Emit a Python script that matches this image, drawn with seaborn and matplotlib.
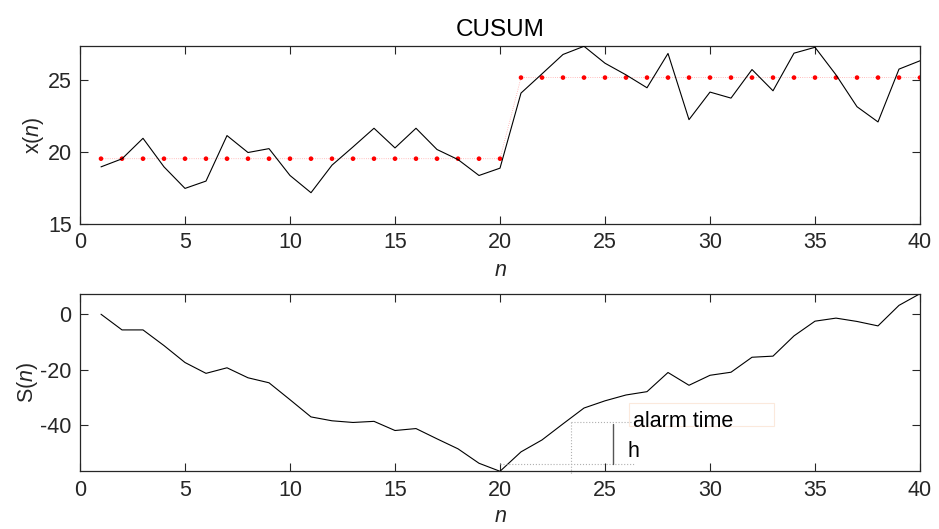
import numpy as np
import pandas as pd
import matplotlib
matplotlib.use("Agg")
import matplotlib.pyplot as plt
import seaborn as sns
from matplotlib.patches import Rectangle

# ---------------- data ----------------
n = list(range(1, 41))
x_values = [18.98, 19.54, 20.97, 18.98, 17.48, 17.99, 21.16, 19.98, 20.25, 18.38,
            17.18, 19.10, 20.37, 21.67, 20.30, 21.67, 20.19, 19.49, 18.38, 18.89,
            24.12, 25.46, 26.81, 27.38, 26.20, 25.39, 24.49, 26.88, 22.27, 24.19,
            23.77, 25.76, 24.28, 26.90, 27.31, 25.39, 23.17, 22.11, 25.79, 26.37]
mean_level = [19.55, 19.55, 19.55, 19.55, 19.55, 19.55, 19.55, 19.55, 19.55, 19.55,
              19.55, 19.55, 19.55, 19.55, 19.55, 19.55, 19.55, 19.55, 19.55, 19.55,
              25.20, 25.20, 25.20, 25.20, 25.20, 25.20, 25.20, 25.20, 25.20, 25.20,
              25.20, 25.20, 25.20, 25.20, 25.20, 25.20, 25.20, 25.20, 25.20, 25.20]
s_values = [0.0, -5.65, -5.65, -11.3, -17.4, -21.3, -19.3, -22.9, -24.7, -30.8,
            -37.0, -38.4, -39.0, -38.6, -41.9, -41.2, -44.9, -48.5, -53.7, -56.6,
            -49.6, -45.3, -39.5, -33.8, -31.2, -29.1, -27.9, -21.0, -25.6, -22.0,
            -20.9, -15.5, -15.1, -7.8, -2.5, -1.4, -2.6, -4.2, 3.2, 7.4]
x_ticks = [0, 5, 10, 15, 20, 25, 30, 35, 40]
top_yticks = [15, 20, 25]
bottom_yticks = [-40, -20, 0]

df = pd.DataFrame({"n": n, "x": x_values, "mu": mean_level, "S": s_values})

# ---------------- style ----------------
sns.set_style("ticks")
plt.rcParams["font.family"] = ["Liberation Sans", "DejaVu Sans"]
plt.rcParams["mathtext.fontset"] = "custom"
plt.rcParams["mathtext.rm"] = "Liberation Sans"
plt.rcParams["mathtext.it"] = "Liberation Sans:italic"
plt.rcParams["axes.unicode_minus"] = False
FS = 15.5
TXT = "#262626"

fig = plt.figure(figsize=(9.39, 5.29), dpi=100)
ax1 = fig.add_axes([80 / 939, 1 - 224 / 529, 840 / 939, 178 / 529])
ax2 = fig.add_axes([80 / 939, 1 - 471.3 / 529, 840 / 939, 177.6 / 529])

# top panel
sns.lineplot(data=df, x="n", y="mu", ax=ax1, color="red", linestyle=":",
             linewidth=0.6, alpha=0.35)
sns.scatterplot(data=df, x="n", y="mu", ax=ax1, color="red", s=11,
                edgecolor="none", zorder=3)
sns.lineplot(data=df, x="n", y="x", ax=ax1, color="black", linewidth=0.8, zorder=4)
ax1.set_xlim(0, 40)
ax1.set_ylim(15, 27.4)
ax1.set_yticks(top_yticks)
ax1.set_title("CUSUM", fontsize=17.5, color="black", pad=7)
ax1.set_ylabel(r"x($\mathit{n}$)", fontsize=FS, color=TXT, labelpad=1)
ax1.set_xlabel(r"$\mathit{n}$", fontsize=FS, color=TXT, labelpad=5)

# bottom panel
sns.lineplot(data=df, x="n", y="S", ax=ax2, color="black", linewidth=0.8)
ax2.set_xlim(0, 40)
ax2.set_ylim(-56.6, 7.4)
ax2.set_yticks(bottom_yticks)
ax2.set_ylabel(r"S($\mathit{n}$)", fontsize=FS, color=TXT, labelpad=0)
ax2.set_xlabel(r"$\mathit{n}$", fontsize=FS, color=TXT, labelpad=4)

# annotation (alarm time / h)
dot_kw = dict(color="#b0b0b0", linestyle=":", linewidth=0.8)
ax2.plot([20, 26.4], [-54.05, -54.05], **dot_kw)
ax2.plot([23.4, 26.3], [-38.9, -38.9], **dot_kw)
ax2.plot([23.4, 23.4], [-38.9, -57.5], clip_on=False, **dot_kw)
ax2.plot([25.4, 25.4], [-39.6, -54.05], color="#555555", linewidth=1.0)
ax2.add_patch(Rectangle((26.15, -40.1), 6.9, 8.0, fill=False,
                        edgecolor="#fbe9dc", linewidth=0.8))
ax2.text(26.35, -38.7, "alarm time", fontsize=FS, color="black", va="center", ha="left")
ax2.text(26.05, -49.5, "h", fontsize=FS, color="black", va="center", ha="left")

for ax in (ax1, ax2):
    ax.set_xticks(x_ticks)
    ax.tick_params(direction="in", length=6, width=0.8, top=True, right=True,
                   labelsize=FS, colors=TXT, pad=6)
    for sp in ax.spines.values():
        sp.set_visible(True)
        sp.set_color(TXT)
        sp.set_linewidth(0.9)

fig.savefig("out.png", dpi=100, facecolor="white")
